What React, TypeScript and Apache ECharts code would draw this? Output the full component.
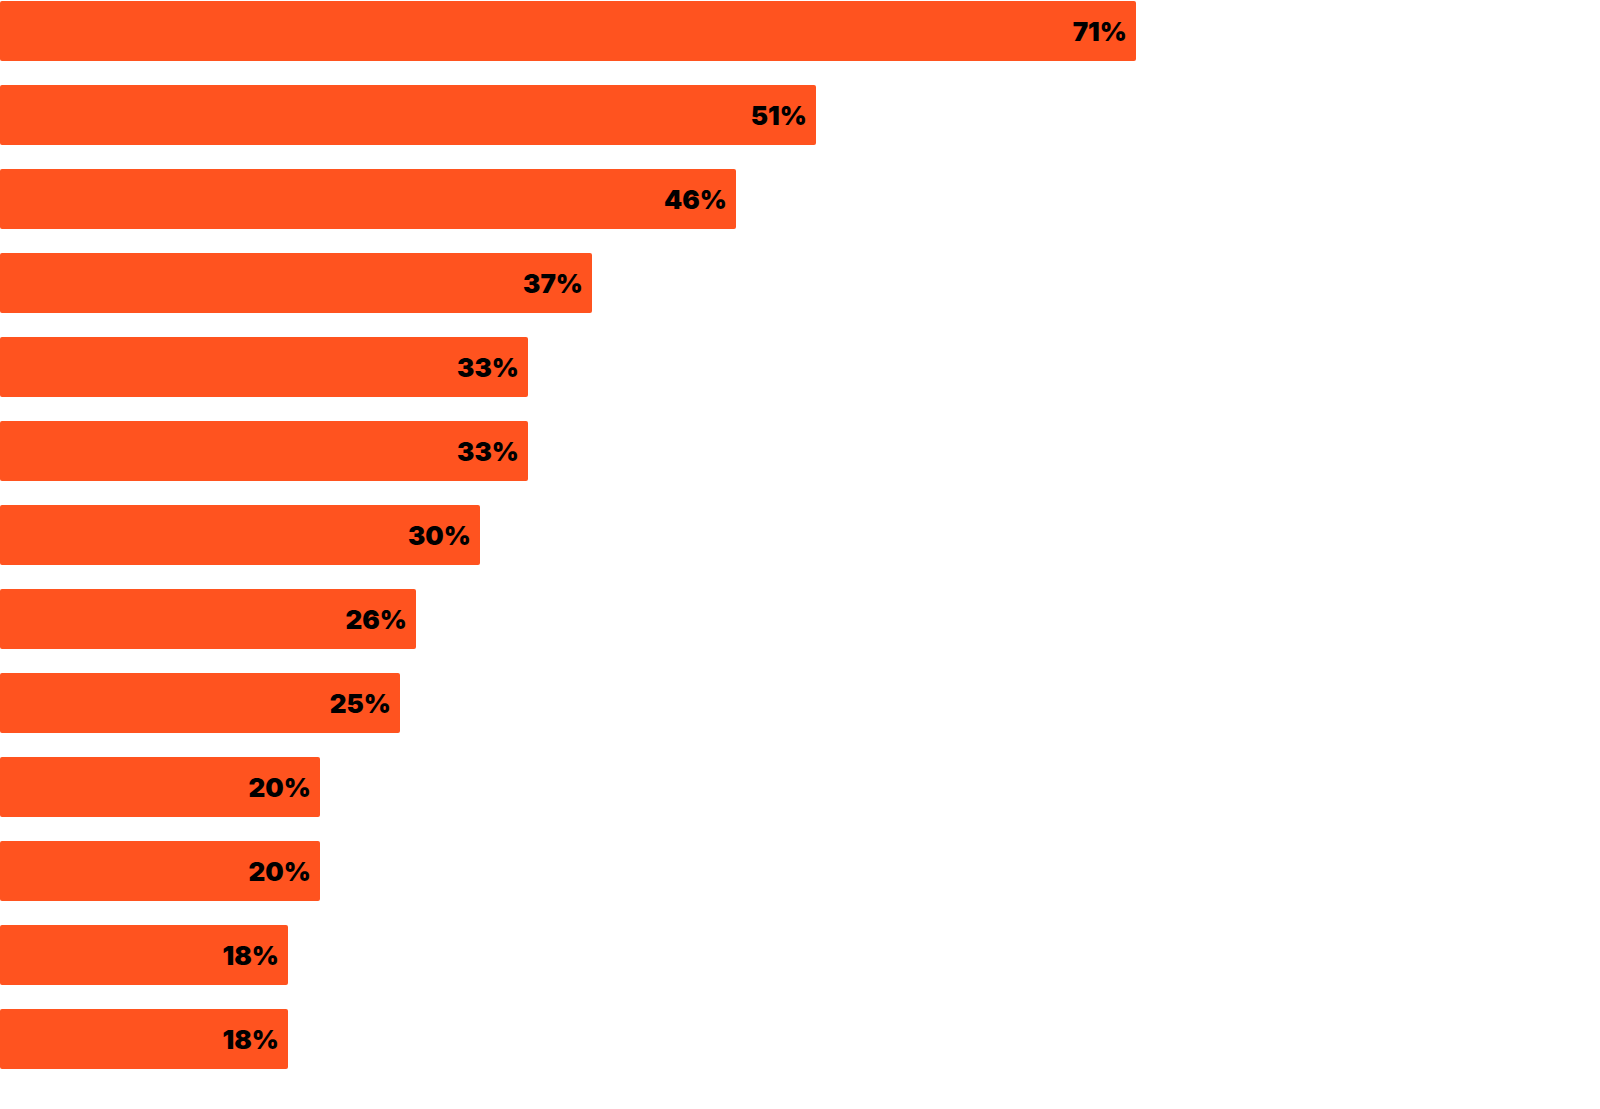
import React, { useEffect, useRef } from "react";
import * as echarts from "echarts";

const categories = ["A", "B", "C", "D", "E", "F", "G", "H", "I", "J", "K", "L", "M"];
const values = [71, 51, 46, 37, 33, 33, 30, 26, 25, 20, 20, 18, 18];

export default function App() {
  const ref = useRef<HTMLDivElement>(null);
  useEffect(() => {
    if (!ref.current) return;
    const chart = echarts.init(ref.current, null, { renderer: "svg" });
    chart.setOption({
      animation: false,
      grid: { left: 0, top: 31, width: 1600, height: 1008, containLabel: false },
      xAxis: { type: "value", min: 0, max: 100, show: false },
      yAxis: { type: "category", data: categories, inverse: true, show: false, boundaryGap: false },
      series: [
        {
          type: "bar",
          data: values,
          barWidth: 60,
          itemStyle: { color: "#FF531F", borderRadius: 2 },
          label: {
            show: true,
            position: "insideRight",
            distance: 9,
            formatter: "{c}%",
            fontFamily: "Inter",
            fontWeight: 900,
            fontSize: 26,
            color: "#000",
          },
        },
      ],
    });
    return () => chart.dispose();
  }, []);
  return (
    <div
      ref={ref}
      style={{ position: "absolute", left: 0, top: 0, width: 1600, height: 1109, background: "#fff" }}
    />
  );
}
